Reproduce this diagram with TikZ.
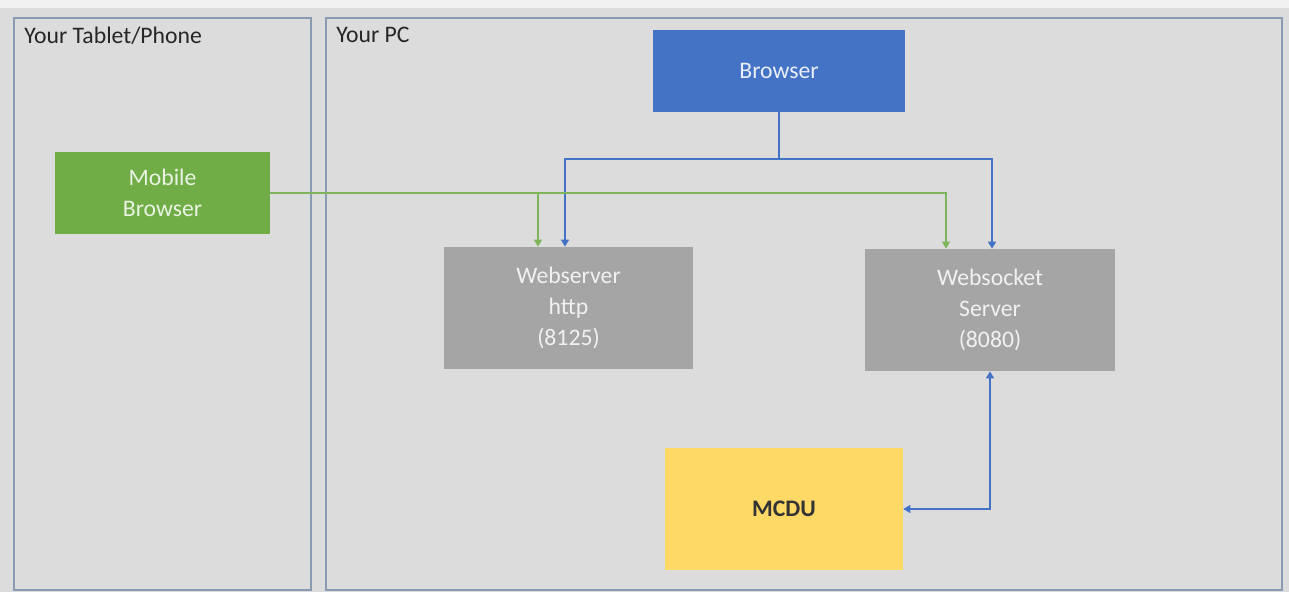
\documentclass[tikz,border=0pt]{standalone}
\usepackage{fontspec}
\setmainfont{Carlito}
\usetikzlibrary{arrows.meta}
\definecolor{bgray}{HTML}{DCDCDC}
\definecolor{panelline}{HTML}{8A9AB2}
\definecolor{pcblue}{HTML}{4472C4}
\definecolor{mobgreen}{HTML}{70AD47}
\definecolor{srvgray}{HTML}{A5A5A5}
\definecolor{mcduyellow}{HTML}{FFD966}
\tikzset{
  box/.style 2 args={draw=none, minimum width=#1cm, minimum height=#2cm,
    align=center, font=\fontsize{13.5}{17.5}\selectfont, inner sep=0pt},
  link/.style={line width=1.1pt, -{Triangle[length=4pt,width=4.5pt]}},
}
\begin{document}
\begin{tikzpicture}[x=0.02cm, y=-0.02cm]
\useasboundingbox (0,0) rectangle (1289,592);
\fill[bgray] (0,0) rectangle (1289,592);
\fill[white!60!bgray] (0,0) rectangle (1289,8);
% the two machines
\foreach \l/\r/\txt [count=\k] in {14/311/Your Tablet\slash Phone, 326/1282/Your PC} {
  \draw[panelline, line width=1.6pt] (\l,18) rectangle (\r,590);
  \node[anchor=north west, font=\fontsize{13.5}{16}\selectfont, text=black!85, inner sep=0pt]
    (panel\k) at (\l+10,27) {\txt};
};
% components
\node[box={5.04}{1.64}, fill=pcblue, text=white!88!pcblue] (browser) at (779,71) {Browser};
\node[box={4.3}{1.64}, fill=mobgreen, text=white!85!mobgreen] (mobile) at (162.5,193) {Mobile\\Browser};
\node[box={4.98}{2.44}, fill=srvgray, text=white!85!srvgray] (web) at (568.5,308) {Webserver\\http\\(8125)};
\node[box={5.0}{2.44}, fill=srvgray, text=white!85!srvgray] (sock) at (990,310) {Websocket\\Server\\(8080)};
\node[box={4.76}{2.44}, fill=mcduyellow, text=black!80, font=\fontsize{13.5}{16}\selectfont\bfseries] (mcdu) at (784,509) {MCDU};
% connections
\draw[link, pcblue] (browser.south) -- ++(0,47) -| ([xshift=-0.07cm]web.north);
\draw[link, pcblue] (browser.south) -- ++(0,47) -| ([xshift=0.04cm]sock.north);
\draw[link, mobgreen!90!white] (mobile.east) -| ([xshift=-0.61cm]web.north);
\draw[link, mobgreen!90!white] (mobile.east) -| ([xshift=-0.88cm]sock.north);
\draw[link, {Triangle[length=4pt,width=4.5pt]}-{Triangle[length=4pt,width=4.5pt]}, pcblue]
  (sock.south) |- (mcdu.east);
\end{tikzpicture}
\end{document}
